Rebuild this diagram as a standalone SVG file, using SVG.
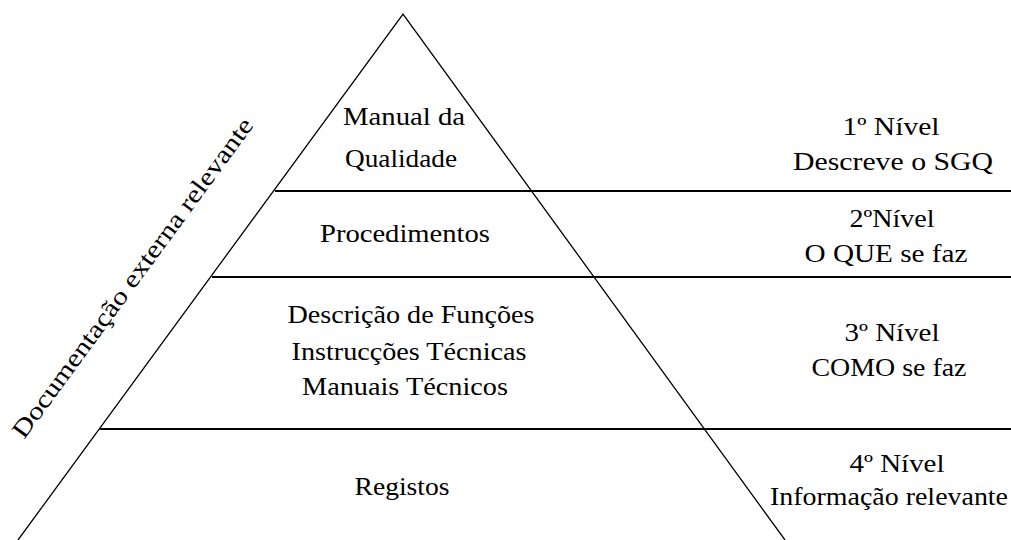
<svg xmlns="http://www.w3.org/2000/svg" width="1011" height="540" viewBox="0 0 1011 540">
<style>
text{font-family:'Liberation Serif',Tinos,'Times New Roman',Times,'Nimbus Roman','Nimbus Roman No9 L','FreeSerif','Noto Serif','DejaVu Serif',serif;font-size:25px;fill:#000;text-anchor:middle}
.side{stroke:#000;stroke-width:1.3;fill:none}
.lvl{stroke:#000;stroke-width:2;fill:none}
</style>
<rect width="1011" height="540" fill="#fff"/>
<g id="connectors">
<polyline class="side" points="18,540 403,14 785,540"/>
<line class="lvl" x1="275" y1="191" x2="1011" y2="191"/>
<line class="lvl" x1="212" y1="277" x2="1011" y2="277"/>
<line class="lvl" x1="100" y1="429" x2="1011" y2="429"/>
</g>
<g id="level1">
<text x="404" y="125" textLength="122" lengthAdjust="spacingAndGlyphs">Manual da</text>
<text x="401" y="167" textLength="112" lengthAdjust="spacingAndGlyphs">Qualidade</text>
</g>
<g id="level2">
<text x="405" y="242" textLength="170" lengthAdjust="spacingAndGlyphs">Procedimentos</text>
</g>
<g id="level3">
<text x="411" y="323" textLength="247" lengthAdjust="spacingAndGlyphs">Descrição de Funções</text>
<text x="409" y="360" textLength="235" lengthAdjust="spacingAndGlyphs">Instrucções Técnicas</text>
<text x="405" y="395" textLength="206" lengthAdjust="spacingAndGlyphs">Manuais Técnicos</text>
</g>
<g id="level4">
<text x="402" y="495" textLength="95" lengthAdjust="spacingAndGlyphs">Registos</text>
</g>
<g id="label1">
<text x="891" y="135" textLength="97" lengthAdjust="spacingAndGlyphs">1º Nível</text>
<text x="893" y="170" textLength="200" lengthAdjust="spacingAndGlyphs">Descreve o SGQ</text>
</g>
<g id="label2">
<text x="892" y="227" textLength="85" lengthAdjust="spacingAndGlyphs">2ºNível</text>
<text x="886" y="262" textLength="163" lengthAdjust="spacingAndGlyphs">O QUE se faz</text>
</g>
<g id="label3">
<text x="892" y="341" textLength="95" lengthAdjust="spacingAndGlyphs">3º Nível</text>
<text x="889" y="376" textLength="155" lengthAdjust="spacingAndGlyphs">COMO se faz</text>
</g>
<g id="label4">
<text x="897" y="472" textLength="95" lengthAdjust="spacingAndGlyphs">4º Nível</text>
<text x="889" y="505" textLength="238" lengthAdjust="spacingAndGlyphs">Informação relevante</text>
</g>
<g id="external">
<text x="0" y="0" transform="translate(24,440) rotate(-53.8)" style="text-anchor:start" textLength="390" lengthAdjust="spacingAndGlyphs">Documentação externa relevante</text>
</g>
</svg>
